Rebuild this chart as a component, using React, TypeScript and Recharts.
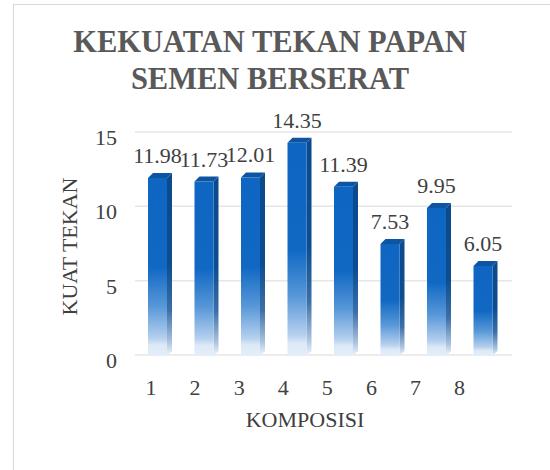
import React from "react";
import { BarChart, Bar, XAxis, YAxis, CartesianGrid, LabelList } from "recharts";

const categories = ["1", "2", "3", "4", "5", "6", "7", "8"];
const kuatTekan = [11.98, 11.73, 12.01, 14.35, 11.39, 7.53, 9.95, 6.05];
const yTicks = [0, 5, 10, 15];
const titleLines = ["KEKUATAN TEKAN PAPAN", "SEMEN BERSERAT"];
const xTitle = "KOMPOSISI";
const yTitle = "KUAT TEKAN";

const data = categories.map((c, i) => ({ name: c, value: kuatTekan[i] }));

const FONT = "Liberation Serif, DejaVu Serif, serif";
const TEXT = "#404040";
const DX = 5;
const DY = 5;

const Bar3D = (props: any) => {
  const { x, y, width, height } = props;
  if (height == null || height <= 0) return null;
  const front = `M${x},${y} h${width} v${height} h${-width} Z`;
  const side = `M${x + width},${y} l${DX},${-DY} v${height} l${-DX},${DY} Z`;
  const top = `M${x},${y} l${DX},${-DY} h${width} l${-DX},${DY} Z`;
  return (
    <g>
      <path d={side} fill="url(#sideGrad)" />
      <path d={top} fill="#0D55A3" />
      <path d={front} fill="url(#frontGrad)" />
    </g>
  );
};

const XTick = (props: any) => {
  const { x, y, payload } = props;
  const lx = 151 + 0.948 * (x - 157.25);
  return (
    <text x={lx} y={y + 39} textAnchor="middle" style={{ fontFamily: FONT }} fontSize={22} fill={TEXT}>
      {payload.value}
    </text>
  );
};

const YTick = (props: any) => {
  const { x, y, payload } = props;
  return (
    <text x={x} y={y + 12} textAnchor="end" style={{ fontFamily: FONT }} fontSize={22} fill={TEXT}>
      {payload.value}
    </text>
  );
};

const ValueLabel = (props: any) => {
  const { x, y, width, value } = props;
  return (
    <text x={x + width / 2} y={y - 15} textAnchor="middle" style={{ fontFamily: FONT }} fontSize={22} fill={TEXT}>
      {value}
    </text>
  );
};

const GridLine = (p: any) => (
  <line
    key={`g-${p.y1}`}
    x1={p.x1 + 1}
    x2={p.x2 + 6}
    y1={p.y1 - 1}
    y2={p.y2 - 1}
    stroke="#E6E6E6"
    strokeWidth={1.5}
  />
);

export default function App() {
  return (
    <div style={{ position: "absolute", left: 0, top: 0, width: 550, height: 470, overflow: "hidden", background: "#fff" }}>
      <div
        style={{
          position: "absolute",
          left: 13,
          top: 4,
          width: 700,
          height: 700,
          border: "1px solid #D9D9D9",
          boxSizing: "border-box",
        }}
      />
      <div
        style={{
          position: "absolute",
          left: 70,
          width: 400,
          top: 24,
          textAlign: "center",
          fontFamily: FONT,
          fontWeight: "bold",
          fontSize: 30.5,
          lineHeight: "37px",
          color: "#595959",
          whiteSpace: "nowrap",
        }}
      >
        {titleLines.map((t) => (
          <div key={t}>{t}</div>
        ))}
      </div>
      <div style={{ position: "absolute", left: 0, top: 0 }}>
        <BarChart width={550} height={470} data={data} margin={{ top: 133, right: 44, bottom: 84, left: 14 }}>
          <defs>
            <linearGradient id="frontGrad" x1="0" y1="0" x2="0" y2="1">
              <stop offset="0" stopColor="#0F66C2" />
              <stop offset="0.5" stopColor="#1068C3" />
              <stop offset="0.72" stopColor="#5797D8" />
              <stop offset="0.9" stopColor="#B5D0EE" />
              <stop offset="0.94" stopColor="#DDE9F7" />
              <stop offset="1" stopColor="#E4EEF9" />
            </linearGradient>
            <linearGradient id="sideGrad" x1="0" y1="0" x2="0" y2="1">
              <stop offset="0" stopColor="#0B4A8C" />
              <stop offset="0.5" stopColor="#0C4D90" />
              <stop offset="0.75" stopColor="#3C6FA8" />
              <stop offset="0.92" stopColor="#A9C2DE" />
              <stop offset="1" stopColor="#F2F6FB" />
            </linearGradient>
          </defs>
          <CartesianGrid vertical={false} horizontal={GridLine} />
          <XAxis
            dataKey="name"
            axisLine={false}
            tickLine={false}
            tickSize={0}
            tickMargin={0}
            height={30}
            tick={XTick}
            interval={0}
            label={(p: any) => {
              const vb = p.viewBox;
              return (
                <text x={305} y={vb.y + 71} textAnchor="middle" style={{ fontFamily: FONT }} fontSize={22} fill={TEXT}>
                  {xTitle}
                </text>
              );
            }}
          />
          <YAxis
            domain={[0, 15]}
            ticks={yTicks}
            axisLine={false}
            tickLine={false}
            tickSize={0}
            tickMargin={17}
            width={120}
            tick={YTick}
            label={(p: any) => {
              const vb = p.viewBox;
              const cx = vb.x + 55;
              const cy = vb.y + vb.height / 2 + 2;
              return (
                <text
                  x={cx}
                  y={cy}
                  transform={`rotate(-90, ${cx}, ${cy})`}
                  textAnchor="middle"
                  dominantBaseline="central"
                  style={{ fontFamily: FONT }}
                  fontSize={22}
                  fill={TEXT}
                >
                  {yTitle}
                </text>
              );
            }}
          />
          <Bar dataKey="value" barSize={19} shape={Bar3D} isAnimationActive={false}>
            <LabelList dataKey="value" content={ValueLabel} />
          </Bar>
        </BarChart>
      </div>
    </div>
  );
}
